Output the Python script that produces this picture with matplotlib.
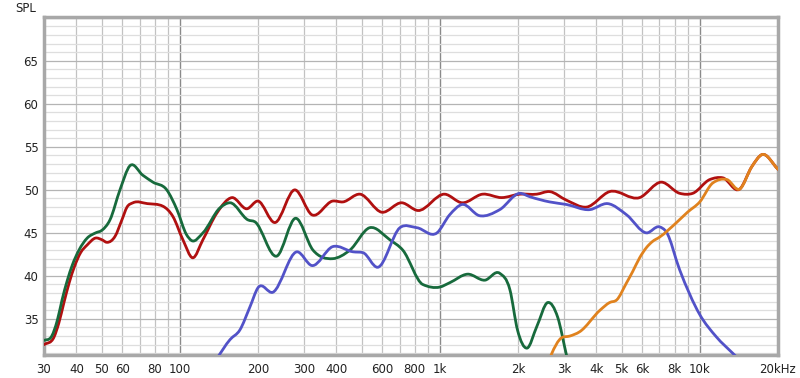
import matplotlib
matplotlib.use("Agg")
import matplotlib.pyplot as plt
import numpy as np
from matplotlib.path import Path
from matplotlib.patches import PathPatch
from matplotlib.ticker import FixedLocator, NullLocator

# values (Hz, dB SPL)
sum_freq = [30, 32.8, 34.2, 35.8, 37.5, 39.2, 41.5, 44, 47.4, 50.1, 52.4, 56.3, 59.8, 62.6, 66,
            75, 86, 94, 102.7, 112, 122.6, 138.7, 158.5, 181, 199.5, 232, 277, 322, 387, 424,
            493, 598, 714, 823, 1045, 1217, 1460, 1730, 2031, 2360, 2645, 3070, 3670, 4500,
            5870, 7120, 8370, 9400, 10930, 12270, 14260, 15860, 17350, 20000]
sum_spl = [32.0, 32.9, 34.5, 36.9, 39.2, 41.0, 42.7, 43.6, 44.4, 44.2, 43.9, 44.6, 46.5, 48.0,
           48.5, 48.4, 48.1, 46.9, 44.2, 42.1, 44.2, 47.3, 49.1, 47.8, 48.7, 46.2, 50.0, 47.1,
           48.7, 48.6, 49.5, 47.4, 48.5, 47.6, 49.5, 48.5, 49.5, 49.1, 49.5, 49.5, 49.8, 48.8,
           48.0, 49.8, 49.1, 50.9, 49.6, 49.6, 51.2, 51.4, 50.1, 52.7, 54.1, 52.4]

woofer_freq = [30, 31.8, 33.8, 35.2, 36.9, 38.6, 40.9, 44, 47.4, 50.1, 53.8, 58.8, 64.2, 72,
               78.7, 89, 97.4, 106, 111, 122.6, 142.5, 156, 183, 194, 236, 279, 325, 387, 451,
               537, 642, 720, 860, 1000, 1091, 1279, 1490, 1700, 1860, 1990, 2165, 2360, 2600,
               2840, 3070, 3200]
woofer_spl = [32.5, 32.8, 34.9, 37.2, 39.5, 41.3, 43.0, 44.4, 45.0, 45.3, 46.5, 50.0, 52.8,
              51.7, 50.9, 50.0, 47.7, 44.8, 44.1, 45.0, 47.9, 48.5, 46.5, 46.3, 42.3, 46.7, 43.0,
              42.0, 43.0, 45.6, 44.2, 43.0, 39.0, 38.7, 39.2, 40.2, 39.5, 40.3, 38.4, 33.7, 31.6,
              34.1, 36.9, 35.2, 30.8, 28.5]

mid_freq = [138, 156, 170, 186, 199.5, 228, 282, 322, 387, 463, 506, 577, 702, 816, 975,
            1091, 1217, 1420, 1700, 2031, 2220, 2645, 3070, 3770, 4430, 5230, 6240, 7000,
            7440, 8370, 10000, 11590, 13400, 14500]
mid_spl = [30.3, 32.6, 33.7, 36.4, 38.6, 38.1, 42.8, 41.2, 43.4, 42.8, 42.7, 41.0, 45.6, 45.6,
           45.0, 47.1, 48.3, 47.0, 47.7, 49.6, 49.2, 48.6, 48.3, 47.7, 48.4, 47.1, 45.0, 45.7,
           45.1, 40.7, 35.5, 32.9, 31.0, 30.0]

tweeter_freq = [2600, 2680, 2940, 3160, 3450, 4130, 4500, 4790, 5230, 5520, 5870, 6240,
                6580, 7000, 8140, 8970, 10000, 11220, 12720, 14260, 15860, 17350, 20000]
tweeter_spl = [29.8, 30.8, 32.8, 33.0, 33.5, 36.0, 36.9, 37.2, 39.2, 40.5, 42.1, 43.3,
               44.0, 44.5, 46.2, 47.4, 48.6, 50.8, 51.2, 50.1, 52.7, 54.1, 52.4]

x_ticks = [30, 40, 50, 60, 80, 100, 200, 300, 400, 600, 800, 1000, 2000, 3000, 4000,
           5000, 6000, 8000, 10000, 20000]
x_labels = ["30", "40", "50", "60", "80", "100", "200", "300", "400", "600", "800", "1k",
            "2k", "3k", "4k", "5k", "6k", "8k", "10k", "20kHz"]
y_ticks = [35, 40, 45, 50, 55, 60, 65]


def smooth_path(freq, spl):
    # cubic segments in log-frequency space, drawn as bezier curves;
    # tangents are clamped on monotone stretches so the curve doesn't overshoot
    u = np.log10(np.asarray(freq, float))
    v = np.asarray(spl, float)
    h = np.diff(u)
    d = np.diff(v) / h
    m = np.gradient(v, u)
    for i in range(1, len(v) - 1):
        if d[i - 1] * d[i] > 0:
            lim = 3 * min(abs(d[i - 1]), abs(d[i]))
            m[i] = np.sign(m[i]) * min(abs(m[i]), lim)
    verts = [(freq[0], v[0])]
    codes = [Path.MOVETO]
    for i in range(len(u) - 1):
        du = h[i] / 3
        verts.append((10 ** (u[i] + du), v[i] + m[i] * du))
        verts.append((10 ** (u[i + 1] - du), v[i + 1] - m[i + 1] * du))
        verts.append((freq[i + 1], v[i + 1]))
        codes += [Path.CURVE4] * 3
    return Path(verts, codes)


fig = plt.figure(figsize=(8, 3.78), dpi=100)
ax = fig.add_axes([44 / 800, 1 - 355 / 378, 734 / 800, 338 / 378])
ax.set_xscale("log")
ax.set_xlim(30, 20000)
ax.set_ylim(30.8, 70.1)

# grid: light lines every 1 dB, darker every 5 dB, decades darkest
for d in (10, 100, 1000):
    for k in range(2, 10):
        f = k * d
        if 30 < f < 10000:
            ax.axvline(f, color="#c2c2c2", lw=0.9, zorder=0)
for f in (100, 1000, 10000):
    ax.axvline(f, color="#8a8a8a", lw=1.0, zorder=0)
for s in range(31, 71):
    ax.axhline(s, color="#b4b4b4" if s % 5 == 0 else "#dedede", lw=0.9, zorder=0)

for freq, spl, color in [(sum_freq, sum_spl, "#b01010"),
                         (woofer_freq, woofer_spl, "#176a3c"),
                         (mid_freq, mid_spl, "#5252c8"),
                         (tweeter_freq, tweeter_spl, "#e0821e")]:
    ax.add_patch(PathPatch(smooth_path(freq, spl), fill=False, edgecolor=color, lw=2.0,
                           capstyle="round", joinstyle="round", zorder=3))

ax.xaxis.set_major_locator(FixedLocator(x_ticks))
ax.set_xticklabels(x_labels)
ax.xaxis.set_minor_locator(NullLocator())
ax.set_yticks(y_ticks)
ax.tick_params(length=0, labelsize=8.5, colors="#222222")
ax.tick_params(axis="x", pad=6)
ax.tick_params(axis="y", pad=4)

for sp in ax.spines.values():
    sp.set_color("#a8a8a8")
    sp.set_linewidth(2.5)

fig.text(15 / 800, 1 - 8 / 378, "SPL", fontsize=8.5, color="#222222", va="center")

fig.savefig("out.png", dpi=100)
plt.close(fig)
